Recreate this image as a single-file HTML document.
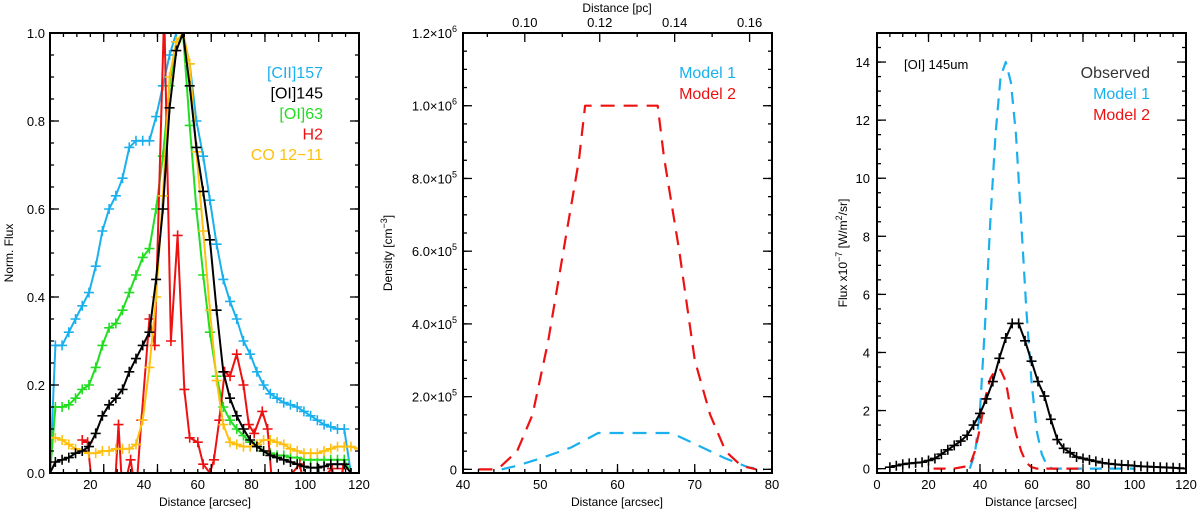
<!DOCTYPE html>
<html><head><meta charset="utf-8"><style>
body{margin:0;background:#fff;}
svg{display:block;font-family:"Liberation Sans",sans-serif;}
</style></head><body>
<svg id="chart" width="1200" height="514" viewBox="0 0 1200 514" xmlns="http://www.w3.org/2000/svg"></svg>
<script>
// ---------- Panel 1 data ----------
const p1X = [5,7,9.5,12,14.5,17,19.5,22,24.5,27,29.5,32,34.5,37,39.5,42,44.5,47,49.5,52,54.5,57,59.5,62,64.5,67,69.5,72,74.5,77,79.5,82,84.5,87,89.5,92,94.5,97,99.5,102,104.5,107,109.5,112,114.5,117];
const ciiY = [0,0.29,0.29,0.32,0.35,0.38,0.41,0.47,0.55,0.60,0.63,0.67,0.74,0.755,0.755,0.755,0.81,0.88,0.95,1.0,1.0,0.93,0.80,0.72,0.62,0.52,0.44,0.39,0.35,0.30,0.27,0.23,0.20,0.18,0.17,0.16,0.155,0.15,0.14,0.13,0.12,0.11,0.105,0.10,0.10,0.0];
const oi63Y = [0,0.15,0.15,0.155,0.17,0.19,0.20,0.24,0.29,0.33,0.34,0.37,0.41,0.45,0.49,0.51,0.60,0.72,0.88,0.98,1.0,0.79,0.60,0.45,0.32,0.22,0.15,0.12,0.10,0.085,0.07,0.06,0.05,0.045,0.04,0.04,0.035,0.035,0.03,0.03,0.03,0.03,0.03,0.03,0.03,0.0];
const oi145Y = [0,0.025,0.03,0.035,0.045,0.05,0.06,0.09,0.13,0.155,0.17,0.19,0.23,0.26,0.29,0.32,0.44,0.60,0.83,0.96,1.0,0.88,0.74,0.64,0.53,0.37,0.23,0.17,0.13,0.10,0.075,0.06,0.05,0.04,0.035,0.03,0.025,0.02,0.015,0.012,0.012,0.015,0.02,0.02,0.02,0.0];
const coY = [0.08,0.08,0.075,0.065,0.055,0.05,0.045,0.045,0.05,0.05,0.055,0.055,0.055,0.065,0.12,0.24,0.40,0.63,0.90,0.98,1.0,0.93,0.73,0.55,0.37,0.21,0.11,0.07,0.065,0.06,0.06,0.065,0.075,0.075,0.07,0.065,0.055,0.05,0.045,0.045,0.045,0.05,0.055,0.06,0.06,0.06];
const h2X = [17,19,21,29,30.5,32,35,37,39,42,44,47.5,50,52.5,55,57,60,62,64.5,66,68,70,72,74.5,77,79,81,84,86,88,98,100,110,112,114];
const h2Y = [0.075,0.07,-0.05,-0.05,0.11,-0.05,0.03,-0.05,0.12,0.35,0.29,1.05,0.30,0.54,0.19,0.08,0.07,0.02,0.0,0.03,0.12,0.23,0.22,0.27,0.20,0.11,0.09,0.14,0.10,-0.05,0.02,-0.05,0.01,-0.05,0.01];
const p1XTicks = [20,40,60,80,100,120];
const p1YTicks = [0,0.2,0.4,0.6,0.8,1.0];
const p1YLabels = ["0.0","0.2","0.4","0.6","0.8","1.0"];
// ---------- Panel 2 data ----------
const m2X = [42,44,45,47,49,51,53,55,55.8,65.2,66,68,70,72,74,76,78];
const m2Y = [0,0,0.01e6,0.05e6,0.15e6,0.35e6,0.6e6,0.85e6,1.0e6,1.0e6,0.86e6,0.6e6,0.3e6,0.15e6,0.05e6,0.01e6,0];
const m1X = [45,47,50,54,57.5,67,70,74,77,79];
const m1Y = [0,0.01e6,0.03e6,0.06e6,0.1e6,0.1e6,0.07e6,0.03e6,0.005e6,0];
const p2XTicks = [40,50,60,70,80];
const p2YTicks = [0,2e5,4e5,6e5,8e5,1e6,1.2e6];
const p2YMant = ["0","2.0","4.0","6.0","8.0","1.0","1.2"];
const p2YExp = ["","5","5","5","5","6","6"];
const pcTicks = [0.10,0.12,0.14,0.16];
// ---------- Panel 3 data ----------
const r1X = [36,38,40,42,44,46,48,50,52,54,56,58,60,62,64,66,68,100];
const r1Y = [0,0.5,2,5,8.5,11.5,13.5,14,13.3,11.5,8.5,5.5,3,1.3,0.5,0.1,0,0];
const r2X = [22,30,36,38,40,42,44,46,48,50,52,54,56,58,60,62,80];
const r2Y = [0,0,0.1,0.6,1.4,2.4,3.1,3.4,3.4,3.0,2.0,1.2,0.6,0.2,0.05,0,0];
const obsX = [5,7.5,10,12.5,15,17.5,20,22.5,25,27.5,30,32.5,35,37.5,40,42.5,45,47.5,50,52.5,55,57.5,60,62.5,65,67.5,70,72.5,75,77.5,80,82.5,85,87.5,90,92.5,95,97.5,100,102.5,105,107.5,110,112.5,115,117.5];
const obsY = [0.05,0.1,0.15,0.18,0.2,0.22,0.28,0.35,0.5,0.65,0.8,0.95,1.15,1.5,1.9,2.4,3.0,3.8,4.5,5.0,5.0,4.4,3.7,3.0,2.5,1.7,1.0,0.7,0.55,0.4,0.35,0.3,0.25,0.2,0.17,0.15,0.13,0.12,0.1,0.08,0.07,0.06,0.05,0.04,0.03,0.02];
const p3XTicks = [0,20,40,60,80,100,120];
const p3YTicks = [0,2,4,6,8,10,12,14];

const NS="http://www.w3.org/2000/svg";
const svg=document.getElementById('chart');
function mk(tag,attrs,parent){const e=document.createElementNS(NS,tag);for(const k in attrs)e.setAttribute(k,attrs[k]);(parent||svg).appendChild(e);return e;}
function txt(s,x,y,attrs,parent){const e=mk('text',Object.assign({x:x,y:y,'font-size':13},attrs),parent);e.textContent=s;return e;}

function panel(name,L,R,T,B,xmin,xmax,ymin,ymax){
  const g=mk('g',{});
  
  
  const cid='clip-'+name;
  const cp=mk('clipPath',{id:cid},g);mk('rect',{x:L,y:T,width:R-L,height:B-T},cp);
  const sx=v=>L+(v-xmin)/(xmax-xmin)*(R-L);
  const sy=v=>B-(v-ymin)/(ymax-ymin)*(B-T);
  return {g,sx,sy,L,R,T,B,cid};
}
function ticks(P,xmaj,xmin_,ymaj,ymin_,xr,yr,noTop){
  const g=mk('g',{stroke:'#000','stroke-width':1.3},P.g);
  
  
  const tk=(vals,len,axis)=>{vals.forEach(v=>{
    if(axis==='x'){const x=P.sx(v);if(x<P.L-0.5||x>P.R+0.5)return;
      mk('line',{x1:x,y1:P.B,x2:x,y2:P.B-len},g);
      if(!noTop)mk('line',{x1:x,y1:P.T,x2:x,y2:P.T+len},g);}
    else{const y=P.sy(v);if(y<P.T-0.5||y>P.B+0.5)return;
      mk('line',{x1:P.L,y1:y,x2:P.L+len,y2:y},g);mk('line',{x1:P.R,y1:y,x2:P.R-len,y2:y},g);}
  });};
  const rng=(a,b,s)=>{const o=[];for(let v=a;v<=b+1e-9;v+=s)o.push(v);return o;};
  tk(rng(xr[0],xr[1],xmin_),4,'x');tk(rng(xr[0],xr[1],xmaj),9,'x');
  tk(rng(yr[0],yr[1],ymin_),4,'y');tk(rng(yr[0],yr[1],ymaj),9,'y');
  const f=mk('rect',{x:P.L,y:P.T,width:P.R-P.L,height:P.B-P.T,fill:'none',stroke:'#000','stroke-width':2},P.g);
  
  
}
function line(P,xs,ys,color,name,opts){
  opts=opts||{};
  const pts=xs.map((x,i)=>P.sx(x).toFixed(1)+','+P.sy(ys[i]).toFixed(1)).join(' ');
  const gg=mk('g',{'clip-path':'url(#'+P.cid+')'},P.g);
  
  
  const pl=mk('polyline',{points:pts,fill:'none',stroke:color,'stroke-width':opts.w||2,'stroke-linejoin':'round'},gg);
  if(opts.dash)pl.setAttribute('stroke-dasharray',opts.dash);
  if(opts.marker){xs.forEach((x,i)=>{const px=P.sx(x),py=P.sy(ys[i]);
    const m=mk('path',{d:`M${px-5},${py}H${px+5}M${px},${py-5}V${py+5}`,stroke:color,'stroke-width':1.6},gg);
    
    });}
}

// ===== Panel 1 =====
const P1=panel('panel-normalized-flux',50,359,33,473,5,120,0,1.0);
line(P1,p1X,ciiY,'#1ab0ee','series-cii157',{marker:true});
line(P1,p1X,oi63Y,'#22dd22','series-oi63',{marker:true});
line(P1,h2X,h2Y,'#ee1111','series-h2',{marker:true});
line(P1,[...p1X,120],[...coY,0.055],'#ffc010','series-co12-11',{marker:true});
line(P1,p1X,oi145Y,'#000','series-oi145',{marker:true});
ticks(P1,20,5,0.2,0.05,[5,120],[0,1]);
p1XTicks.forEach(v=>{txt(String(v),P1.sx(v),489,{'text-anchor':'middle'});});
p1YTicks.forEach((v,i)=>{txt(p1YLabels[i],45,P1.sy(v)+5,{'text-anchor':'end'});});
txt('Distance [arcsec]',205,506,{'text-anchor':'middle','font-size':12});
txt('Norm. Flux',13,253,{'text-anchor':'middle','font-size':12,transform:'rotate(-90 13 253)'});
const leg1=[['[CII]157','#1ab0ee'],['[OI]145','#000'],['[OI]63','#22dd22'],['H2','#ee1111'],['CO 12−11','#ffc010']];
leg1.forEach((l,i)=>{const t=txt(l[0],323,78+i*20.5,{'text-anchor':'end','font-size':16,fill:l[1]});
  
  });

// ===== Panel 2 =====
const P2=panel('panel-density',463,772,33,473,40,80,-0.01e6,1.2e6);
line(P2,m1X,m1Y,'#1ab0ee','series-model1-density',{dash:'14,9',w:2.2});
line(P2,m2X,m2Y,'#ee1111','series-model2-density',{dash:'14,9',w:2.2});
ticks(P2,10,2,2e5,5e4,[40,80],[0,1.2e6],true);
const pcToArc=v=>48.0+(v-0.10)*485;
[0.09,0.10,0.11,0.12,0.13,0.14,0.15,0.16,0.17].forEach(v=>{const x=P2.sx(pcToArc(v));if(x<P2.L||x>P2.R)return;
  const len=(Math.round(v*100)%2===0)?9:4;mk('line',{x1:x,y1:P2.T,x2:x,y2:P2.T+len,stroke:'#000','stroke-width':1.3},P2.g);});
pcTicks.forEach(v=>{txt(v.toFixed(2),P2.sx(pcToArc(v)),27,{'text-anchor':'middle'});});
p2XTicks.forEach(v=>{txt(String(v),P2.sx(v),489,{'text-anchor':'middle'});});
p2YTicks.forEach((v,i)=>{const y=P2.sy(v)+5;
  if(p2YExp[i]===''){txt(p2YMant[i],457,y,{'text-anchor':'end'});}
  else{const t=txt('',457,y,{'text-anchor':'end'});
    const a=mk('tspan',{},t);a.textContent=p2YMant[i]+'×10';
    const b=mk('tspan',{dy:-6,'font-size':9},t);b.textContent=p2YExp[i];}});
txt('Distance [arcsec]',617,506,{'text-anchor':'middle','font-size':12});
txt('Distance [pc]',617,12,{'text-anchor':'middle','font-size':12});
(function(){const t=txt('',392,253,{'text-anchor':'middle','font-size':12,transform:'rotate(-90 392 253)'});
  const a=mk('tspan',{},t);a.textContent='Density [cm';const b=mk('tspan',{dy:-5,'font-size':9},t);b.textContent='−3';const c=mk('tspan',{dy:5},t);c.textContent=']';})();
[['Model 1','#1ab0ee',78],['Model 2','#ee1111',99]].forEach(l=>{const t=txt(l[0],736,l[2],{'text-anchor':'end','font-size':16,fill:l[1]});
  
  });

// ===== Panel 3 =====
const P3=panel('panel-oi145-flux',877,1186,33,473,0,120,-0.15,15);
line(P3,r1X,r1Y,'#1ab0ee','series-model1-flux',{dash:'12,8',w:2.2});
line(P3,r2X,r2Y,'#ee1111','series-model2-flux',{dash:'12,8',w:2.2});
line(P3,obsX,obsY,'#000','series-observed-flux',{marker:true});
ticks(P3,20,5,2,0.5,[0,120],[0,15]);
p3XTicks.forEach(v=>{txt(String(v),P3.sx(v),489,{'text-anchor':'middle'});});
p3YTicks.forEach(v=>{txt(String(v),870,P3.sy(v)+5,{'text-anchor':'end'});});
txt('Distance [arcsec]',1031,506,{'text-anchor':'middle','font-size':12});
(function(){const t=txt('',847,253,{'text-anchor':'middle','font-size':12,transform:'rotate(-90 847 253)'});
  const parts=[['Flux x10',0,12],['−7',-5,9],[' [W/m',5,12],['2',-5,9],['/sr]',5,12]];
  parts.forEach(p=>{const s=mk('tspan',{dy:p[1],'font-size':p[2]},t);s.textContent=p[0];});})();
txt('[OI] 145um',904,69,{'font-size':13});
[['Observed','#333',78],['Model 1','#1ab0ee',99],['Model 2','#ee1111',120]].forEach(l=>{const t=txt(l[0],1150,l[2],{'text-anchor':'end','font-size':16,fill:l[1]});
  
  });
</script>
</body></html>
